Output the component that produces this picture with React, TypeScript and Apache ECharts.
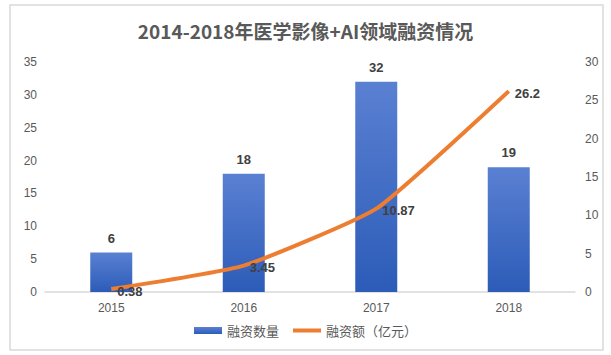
import React, { useEffect, useRef } from "react";
import * as echarts from "echarts";

const categories = ["2015", "2016", "2017", "2018"];
const dealCounts = [6, 18, 32, 19];
const amounts = [0.38, 3.45, 10.87, 26.2];
const titleText = "2014-2018年医学影像+AI领域融资情况";
const barName = "融资数量";
const lineName = "融资额（亿元）";

export default function App() {
  const ref = useRef<HTMLDivElement>(null);
  useEffect(() => {
    const chart = echarts.init(ref.current!, null, { renderer: "svg" });
    const font = "Liberation Sans, Arial, sans-serif";
    chart.setOption({
      animation: false,
      backgroundColor: "#ffffff",
      title: {
        text: titleText,
        left: "center",
        top: 16,
        textStyle: { fontSize: 19, fontWeight: "bold", color: "#595959", fontFamily: "Noto Sans CJK SC, sans-serif" },
      },
      graphic: [
        {
          type: "rect",
          shape: { x: 10, y: 5, width: 593, height: 345 },
          style: { fill: "none", stroke: "#d9d9d9", lineWidth: 1.5 },
          silent: true,
        },
      ],
      legend: {
        bottom: 13,
        left: "center",
        itemGap: 14,
        itemWidth: 28,
        itemHeight: 7,
        textStyle: { color: "#595959", fontSize: 13, fontFamily: "Noto Sans CJK SC, sans-serif" },
        data: [
          { name: barName, icon: "rect" },
          {
            name: lineName,
            icon: "path://M0,0 L28,0 L28,4 L0,4 Z",
            itemStyle: { color: "#ed7d31", opacity: 1 },
          },
        ],
      },
      grid: { left: 45, right: 36, top: 62, bottom: 63 },
      xAxis: {
        type: "category",
        data: categories,
        axisLine: { lineStyle: { color: "#d9d9d9", width: 1.5 } },
        axisTick: { show: false },
        axisLabel: { color: "#595959", fontSize: 12, fontFamily: font, margin: 10 },
      },
      yAxis: [
        {
          type: "value",
          min: 0,
          max: 35,
          interval: 5,
          axisLine: { show: false },
          axisTick: { show: false },
          splitLine: { show: false },
          axisLabel: { color: "#595959", fontSize: 12, fontFamily: font, margin: 8 },
        },
        {
          type: "value",
          min: 0,
          max: 30,
          interval: 5,
          axisLine: { show: false },
          axisTick: { show: false },
          splitLine: { show: false },
          axisLabel: { color: "#595959", fontSize: 12, fontFamily: font, margin: 10 },
        },
      ],
      series: [
        {
          name: barName,
          type: "bar",
          data: dealCounts,
          barWidth: 42,
          itemStyle: {
            color: new echarts.graphic.LinearGradient(0, 0, 0, 1, [
              { offset: 0, color: "#5a80d2" },
              { offset: 1, color: "#2c5cb8" },
            ]),
          },
          label: {
            show: true,
            position: "top",
            distance: 8,
            color: "#404040",
            fontWeight: "bold",
            fontSize: 13,
            fontFamily: font,
          },
        },
        {
          name: lineName,
          type: "line",
          yAxisIndex: 1,
          data: amounts,
          symbol: "circle",
          symbolSize: 0,
          showSymbol: true,
          smooth: 0.15,
          z: 3,
          lineStyle: { color: "#ed7d31", width: 4 },
          itemStyle: { color: "#ed7d31" },
          label: {
            show: true,
            position: "right",
            distance: 6,
            offset: [0, 2],
            color: "#404040",
            fontWeight: "bold",
            fontSize: 13,
            fontFamily: font,
          },
        },
      ],
    });
    return () => chart.dispose();
  }, []);
  return (
    <div
      ref={ref}
      style={{ position: "fixed", left: 0, top: 0, width: 611, height: 355 }}
    />
  );
}
